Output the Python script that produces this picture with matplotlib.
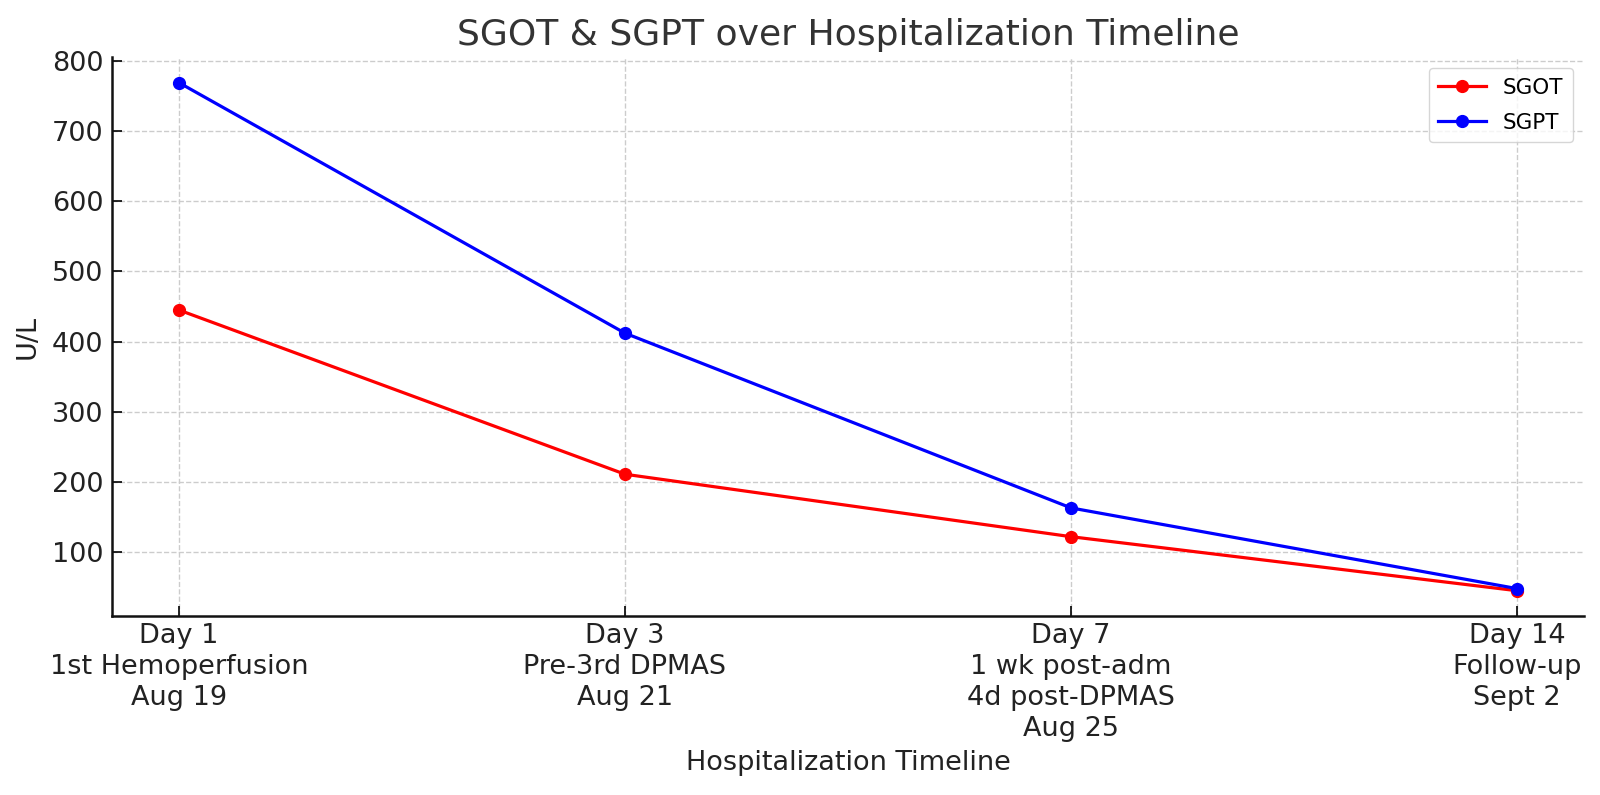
import matplotlib
matplotlib.use("Agg")
from matplotlib import pyplot as plt

# data
timepoints = ["Day 1\n1st Hemoperfusion\nAug 19",
              "Day 3\nPre-3rd DPMAS\nAug 21",
              "Day 7\n1 wk post-adm\n4d post-DPMAS\nAug 25",
              "Day 14\nFollow-up\nSept 2"]
sgot = [445, 211, 122, 45]
sgpt = [769, 412, 163, 48]

fig = plt.figure(figsize=(16, 7.95), dpi=100)
ax = fig.add_axes([0.07, 0.225, 0.92, 0.703])

x = list(range(len(timepoints)))
ax.plot(x, sgot, color="red", marker="o", linewidth=2.3, markersize=8.5, label="SGOT")
ax.plot(x, sgpt, color="blue", marker="o", linewidth=2.3, markersize=8.5, label="SGPT")

ax.set_xticks(x)
ax.set_xticklabels(timepoints, fontsize=19.5, color="#222222", linespacing=1.25)
ax.tick_params(axis="y", labelsize=19.5, labelcolor="#222222")
ax.tick_params(direction="in", length=7, width=1.2, pad=6)
ax.tick_params(axis="x", pad=5)
ax.set_yticks([100, 200, 300, 400, 500, 600, 700, 800])

ax.set_title("SGOT & SGPT over Hospitalization Timeline", fontsize=26, color="#333333", pad=9)
ax.set_xlabel("Hospitalization Timeline", fontsize=19.5, color="#222222", labelpad=6)
ax.set_ylabel("U/L", fontsize=19.5, color="#222222", labelpad=8)

ax.grid(True, linestyle="--", color="#cccccc", linewidth=1)
ax.set_axisbelow(True)
for side in ["top", "right"]:
    ax.spines[side].set_visible(False)
for side in ["left", "bottom"]:
    ax.spines[side].set_linewidth(1.8)
    ax.spines[side].set_color("#111111")

leg = ax.legend(loc="upper right", fontsize=15.5, frameon=True, borderpad=0.45,
                labelspacing=0.7, handlelength=2.2)
leg.get_frame().set_edgecolor("#cccccc")

fig.savefig("out.png", dpi=100)
